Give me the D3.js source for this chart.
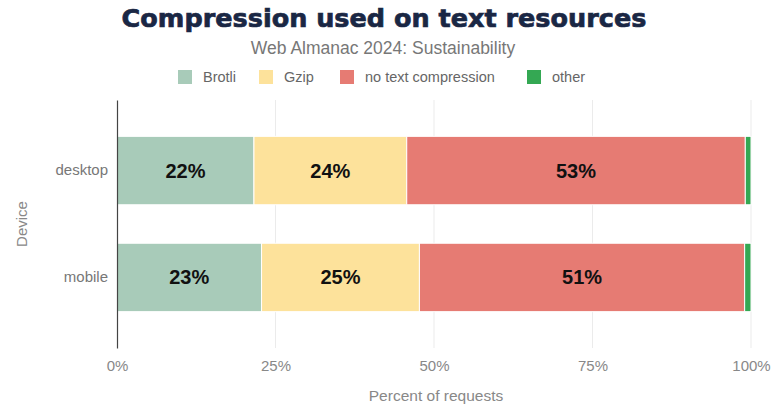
<!DOCTYPE html>
<html>
<head>
<meta charset="utf-8">
<script src="https://cdn.jsdelivr.net/npm/d3@7/dist/d3.min.js"></script>
<style>
  html, body { margin: 0; padding: 0; background: #fff; }
  svg { display: block; }
</style>
</head>
<body>
<svg id="chart" width="771" height="406"></svg>
<script>
// Share of text-resource requests by compression method, per device
const devices = ["desktop", "mobile"];
const series = ["Brotli", "Gzip", "no text compression", "other"];
const colors = ["#a8cbb9", "#fde29b", "#e67b73", "#34a853"];
const brotli = [21.6, 22.8];
const gzip = [24.1, 24.9];
const noCompression = [53.4, 51.3];
const other = [0.9, 1.0];
const xTicks = [0, 25, 50, 75, 100];

const rows = devices.map((d, i) => ({
  device: d,
  "Brotli": brotli[i],
  "Gzip": gzip[i],
  "no text compression": noCompression[i],
  "other": other[i]
}));

const svg = d3.select("#chart");
const plotTop = 100, plotBottom = 348;
const plotLeft = 117, plotW = 634;

const x = d3.scaleLinear().domain([0, 100]).range([plotLeft, plotLeft + plotW]);
const y = d3.scaleBand().domain(devices).range([plotTop, plotBottom]).paddingInner(0.36).paddingOuter(0.34);
const color = d3.scaleOrdinal().domain(series).range(colors);

const sans = "'Liberation Sans', Arial, sans-serif";

// Title block
svg.append("text")
  .attr("x", 384).attr("y", 27)
  .attr("text-anchor", "middle")
  .attr("font-family", "'DejaVu Sans', sans-serif")
  .attr("font-weight", 700)
  .attr("font-size", 25.5)
  .attr("fill", "#1a2744")
  .attr("stroke", "#1a2744")
  .attr("stroke-width", 0.7)
  .text("Compression used on text resources");

svg.append("text")
  .attr("x", 383).attr("y", 54)
  .attr("text-anchor", "middle")
  .attr("font-family", sans)
  .attr("font-size", 17.5)
  .attr("fill", "#777")
  .text("Web Almanac 2024: Sustainability");

// Legend
const legendX = [178, 259, 340, 527];
const legend = svg.append("g");
series.forEach((s, i) => {
  legend.append("rect")
    .attr("x", legendX[i]).attr("y", 70)
    .attr("width", 14).attr("height", 14)
    .attr("fill", color(s));
  legend.append("text")
    .attr("x", legendX[i] + 25).attr("y", 82)
    .attr("font-family", sans)
    .attr("font-size", 14.5)
    .attr("fill", "#666")
    .text(s);
});

// Vertical gridlines
svg.append("g")
  .selectAll("line")
  .data(xTicks.slice(1))
  .join("line")
  .attr("x1", d => x(d)).attr("x2", d => x(d))
  .attr("y1", plotTop).attr("y2", plotBottom)
  .attr("stroke", "#ebebeb")
  .attr("stroke-width", 1);

// Stacked bars
const stacked = d3.stack().keys(series)(rows);
const groups = svg.append("g")
  .selectAll("g")
  .data(stacked)
  .join("g")
  .attr("fill", d => color(d.key));

groups.selectAll("rect")
  .data(d => d)
  .join("rect")
  .attr("x", d => x(d[0]))
  .attr("y", d => y(d.data.device))
  .attr("width", d => x(d[1]) - x(d[0]))
  .attr("height", y.bandwidth())
  .attr("stroke", "#fff")
  .attr("stroke-width", 1);

// Value labels on the three main segments
groups.filter(d => d.key !== "other")
  .selectAll("text")
  .data(d => d)
  .join("text")
  .attr("x", d => (x(d[0]) + x(d[1])) / 2)
  .attr("y", d => y(d.data.device) + y.bandwidth() / 2)
  .attr("dy", "0.35em")
  .attr("text-anchor", "middle")
  .attr("font-family", sans)
  .attr("font-weight", 700)
  .attr("font-size", 20)
  .attr("fill", "#111")
  .text(d => Math.round(d[1] - d[0]) + "%");

// Y axis
const yAxis = svg.append("g")
  .attr("transform", `translate(${plotLeft},0)`)
  .call(d3.axisLeft(y).tickSize(0).tickPadding(9));
yAxis.select(".domain").attr("stroke", "#444").attr("stroke-width", 1.2);
yAxis.selectAll("text")
  .attr("font-family", sans)
  .attr("font-size", 15)
  .attr("fill", "#777");

// X axis
const xAxis = svg.append("g")
  .attr("transform", `translate(0,${plotBottom})`)
  .call(d3.axisBottom(x).tickValues(xTicks).tickFormat(d => d + "%").tickSize(0).tickPadding(12));
xAxis.select(".domain").remove();
xAxis.selectAll("text")
  .attr("font-family", sans)
  .attr("font-size", 15)
  .attr("fill", "#888");

// Axis titles
svg.append("text")
  .attr("x", x(50) + 2).attr("y", 401)
  .attr("text-anchor", "middle")
  .attr("font-family", sans)
  .attr("font-size", 15.5)
  .attr("fill", "#888")
  .text("Percent of requests");

svg.append("text")
  .attr("transform", `translate(27,${(plotTop + plotBottom) / 2}) rotate(-90)`)
  .attr("text-anchor", "middle")
  .attr("font-family", sans)
  .attr("font-size", 15)
  .attr("fill", "#888")
  .text("Device");
</script>
</body>
</html>
